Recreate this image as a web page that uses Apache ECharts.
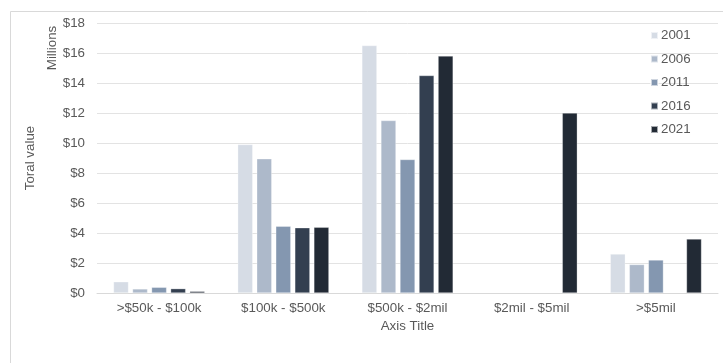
<!DOCTYPE html>
<html>
<head>
<meta charset="utf-8">
<script src="https://cdn.jsdelivr.net/npm/echarts@6/dist/echarts.min.js"></script>
<style>
  html, body { margin: 0; padding: 0; background: #fff; }
  #chart { width: 723px; height: 363px; }
</style>
</head>
<body>
<div id="chart"></div>
<script>
// Value bands (x categories)
const categories = ['>$50k - $100k', '$100k - $500k', '$500k - $2mil', '$2mil - $5mil', '>$5mil'];
// Census years (series)
const years = ['2001', '2006', '2011', '2016', '2021'];
// Total value in millions of dollars, one array per year
const v2001 = [0.75, 9.9, 16.5, null, 2.6];
const v2006 = [0.27, 8.95, 11.5, null, 1.9];
const v2011 = [0.38, 4.45, 8.9, null, 2.2];
const v2016 = [0.29, 4.35, 14.5, null, null];
const v2021 = [0.11, 4.38, 15.8, 12.0, 3.6];
// Y axis ticks
const yMin = 0, yMax = 18, yStep = 2;

const seriesValues = [v2001, v2006, v2011, v2016, v2021];
const colors = ['#d6dce5', '#adb9ca', '#8497b0', '#333f50', '#222a35'];
const textColor = '#595959';
const font = 'Liberation Sans, Arial, sans-serif';
const fs = 13.33;

const chart = echarts.init(document.getElementById('chart'), null, { renderer: 'canvas' });

chart.setOption({
  animation: false,
  backgroundColor: '#ffffff',
  textStyle: { fontFamily: font },
  grid: { left: 97, right: 5, top: 23, bottom: 70, containLabel: false },
  legend: {
    orient: 'vertical',
    left: 645,
    top: 24,
    itemWidth: 7,
    itemHeight: 7,
    itemGap: 10.5,
    icon: 'rect',
    data: years,
    textStyle: { color: textColor, fontSize: fs, fontFamily: font, padding: [0, 0, 0, -2] }
  },
  xAxis: {
    type: 'category',
    data: categories,
    name: 'Axis Title',
    nameLocation: 'middle',
    nameGap: 27,
    nameTextStyle: { color: textColor, fontSize: fs, fontFamily: font },
    axisLine: { show: true, lineStyle: { color: '#d9d9d9', width: 1 } },
    axisTick: { show: false },
    axisLabel: { color: textColor, fontSize: fs, fontFamily: font, margin: 9 },
    splitLine: { show: false }
  },
  yAxis: {
    type: 'value',
    min: yMin,
    max: yMax,
    interval: yStep,
    axisLine: { show: false },
    axisTick: { show: false },
    axisLabel: {
      color: textColor, fontSize: fs, fontFamily: font, margin: 12,
      formatter: v => '$' + v
    },
    splitLine: { lineStyle: { color: '#e3e3e3', width: 1 } }
  },
  series: years.map((y, i) => ({
    name: y,
    type: 'bar',
    data: seriesValues[i],
    barWidth: 15,
    barGap: '27%',
    itemStyle: { color: colors[i], borderColor: 'rgba(255,255,255,0.6)', borderWidth: 0.5 }
  })),
  graphic: [
    {
      type: 'rect',
      shape: { x: 10.5, y: 11.5, width: 740, height: 400 },
      style: { fill: 'none', stroke: '#d9d9d9', lineWidth: 1 },
      silent: true
    },
    {
      type: 'text',
      x: 52, y: 48,
      rotation: Math.PI / 2,
      style: {
        text: 'Millions', fill: textColor, font: fs + 'px ' + font,
        align: 'center', verticalAlign: 'middle'
      }
    },
    {
      type: 'text',
      x: 30, y: 158,
      rotation: Math.PI / 2,
      style: {
        text: 'Toral value', fill: textColor, font: fs + 'px ' + font,
        align: 'center', verticalAlign: 'middle'
      }
    }
  ]
});
</script>
</body>
</html>
